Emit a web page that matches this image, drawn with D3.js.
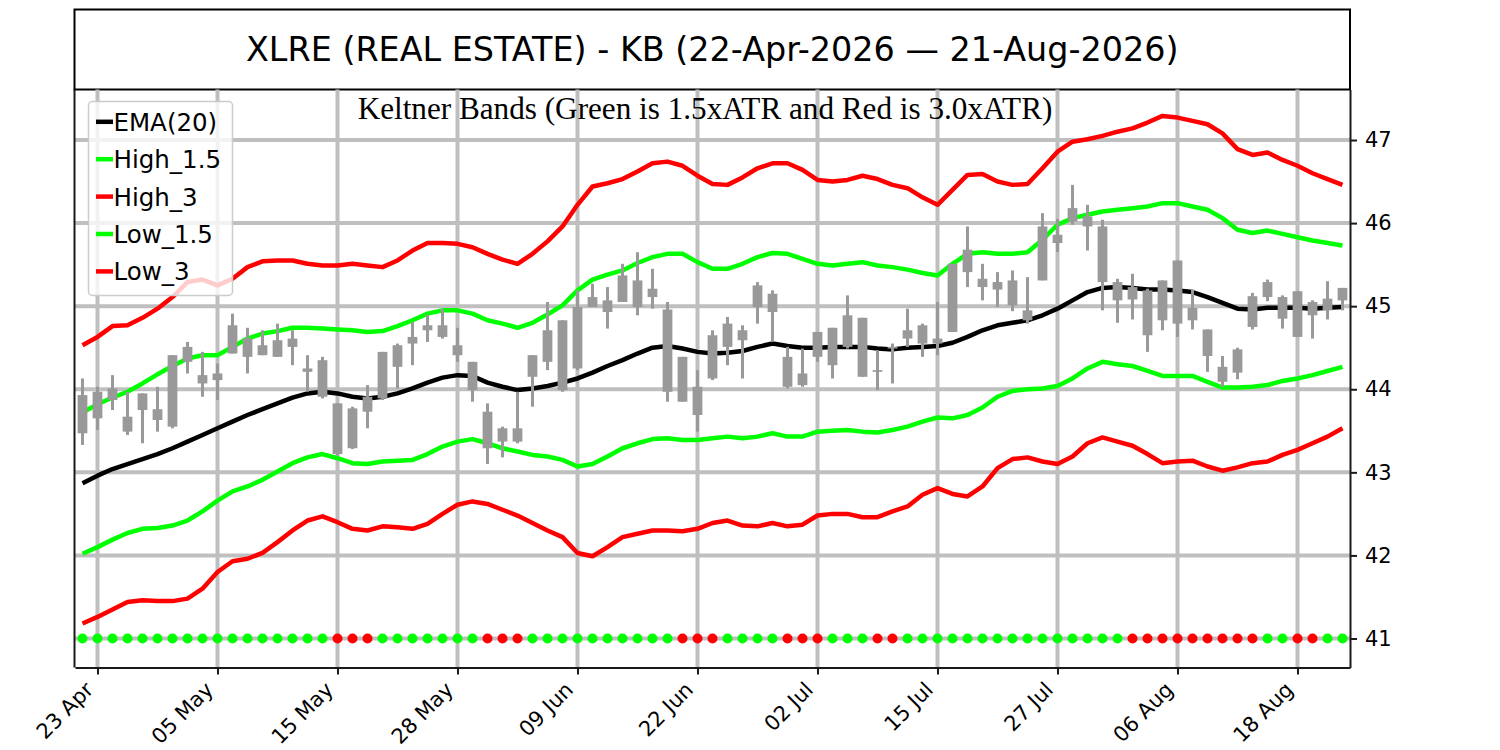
<!DOCTYPE html>
<html>
<head>
<meta charset="utf-8">
<script src="https://cdn.jsdelivr.net/npm/d3@7"></script>
<style>
  body { margin: 0; background: #fff; }
  svg { display: block; }
</style>
</head>
<body>
<svg id="chart" width="1500" height="750"></svg>
<script>
const dates = [
  "2026-04-22", "2026-04-23", "2026-04-24", "2026-04-27", "2026-04-28", "2026-04-29", "2026-04-30",
  "2026-05-01", "2026-05-04", "2026-05-05", "2026-05-06", "2026-05-07", "2026-05-08", "2026-05-11",
  "2026-05-12", "2026-05-13", "2026-05-14", "2026-05-15", "2026-05-18", "2026-05-19", "2026-05-20",
  "2026-05-21", "2026-05-22", "2026-05-26", "2026-05-27", "2026-05-28", "2026-05-29", "2026-06-01",
  "2026-06-02", "2026-06-03", "2026-06-04", "2026-06-05", "2026-06-08", "2026-06-09", "2026-06-10",
  "2026-06-11", "2026-06-12", "2026-06-15", "2026-06-16", "2026-06-17", "2026-06-18", "2026-06-22",
  "2026-06-23", "2026-06-24", "2026-06-25", "2026-06-26", "2026-06-29", "2026-06-30", "2026-07-01",
  "2026-07-02", "2026-07-06", "2026-07-07", "2026-07-08", "2026-07-09", "2026-07-10", "2026-07-13",
  "2026-07-14", "2026-07-15", "2026-07-16", "2026-07-17", "2026-07-20", "2026-07-21", "2026-07-22",
  "2026-07-23", "2026-07-24", "2026-07-27", "2026-07-28", "2026-07-29", "2026-07-30", "2026-07-31",
  "2026-08-03", "2026-08-04", "2026-08-05", "2026-08-06", "2026-08-07", "2026-08-10", "2026-08-11",
  "2026-08-12", "2026-08-13", "2026-08-14", "2026-08-17", "2026-08-18", "2026-08-19", "2026-08-20",
  "2026-08-21"
];

const open = [
  43.93, 43.65, 43.87, 43.67, 43.75, 43.76, 43.55, 44.33, 44.17, 44.11,
  44.43, 44.61, 44.53, 44.39, 44.51, 44.25, 44.35, 43.83, 43.29, 43.73,
  43.89, 44.27, 44.55, 44.71, 44.77, 44.53, 44.33, 43.73, 43.53, 43.37,
  44.15, 44.33, 44.83, 44.25, 44.99, 45.07, 45.05, 45.31, 45.11, 44.96,
  44.39, 44.03, 44.13, 44.51, 44.71, 44.99, 45.15, 44.39, 44.19, 44.39,
  44.74, 44.51, 44.86, 44.23, 44.49, 44.61, 44.77, 44.61, 44.69, 45.41,
  45.33, 45.29, 45.31, 44.95, 45.31, 45.76, 46.02, 46.08, 45.96, 45.29,
  45.23, 45.19, 44.83, 44.79, 44.98, 44.72, 44.27, 44.20, 44.75, 45.11,
  45.11, 45.18, 44.89, 44.95, 45.07
];
const high = [
  44.13, 44.03, 44.17, 43.97, 43.95, 44.03, 44.41, 44.57, 44.45, 44.31,
  44.91, 44.74, 44.71, 44.79, 44.71, 44.41, 44.39, 43.83, 43.79, 44.05,
  44.45, 44.55, 44.81, 44.90, 44.97, 44.74, 44.33, 43.83, 43.55, 43.97,
  44.41, 45.05, 44.83, 45.19, 45.27, 45.23, 45.51, 45.65, 45.45, 45.05,
  44.39, 44.23, 44.71, 44.87, 44.77, 45.29, 45.19, 44.51, 44.49, 44.69,
  44.74, 45.13, 44.86, 44.47, 44.55, 44.97, 44.79, 45.05, 45.51, 45.96,
  45.51, 45.41, 45.43, 45.35, 46.12, 46.05, 46.46, 46.22, 46.04, 45.33,
  45.39, 45.21, 45.31, 45.55, 45.20, 44.72, 44.40, 44.50, 45.16, 45.32,
  45.13, 45.18, 45.07, 45.30, 45.22
];
const low = [
  43.33, 43.51, 43.75, 43.45, 43.35, 43.49, 43.53, 44.19, 43.91, 43.87,
  44.43, 44.19, 44.41, 44.39, 44.29, 43.97, 43.89, 43.20, 43.28, 43.53,
  43.87, 44.01, 44.29, 44.57, 44.61, 44.33, 43.85, 43.10, 43.18, 43.35,
  43.79, 44.23, 43.97, 44.23, 44.99, 44.73, 45.05, 44.89, 44.97, 43.85,
  43.85, 43.49, 44.11, 44.29, 44.13, 44.79, 44.57, 44.01, 44.03, 44.33,
  44.13, 44.49, 44.15, 43.99, 44.07, 44.51, 44.39, 44.41, 44.69, 45.23,
  45.07, 44.99, 44.94, 44.79, 45.31, 45.65, 45.98, 45.67, 44.95, 44.80,
  44.84, 44.45, 44.71, 44.63, 44.72, 44.21, 44.03, 44.12, 44.72, 45.06,
  44.73, 44.63, 44.61, 44.84, 44.95
];
const close = [
  43.47, 43.97, 44.01, 43.49, 43.95, 43.63, 44.41, 44.51, 44.07, 44.19,
  44.77, 44.39, 44.41, 44.59, 44.61, 44.21, 43.91, 43.22, 43.77, 43.91,
  44.45, 44.53, 44.63, 44.77, 44.63, 44.41, 43.99, 43.29, 43.37, 43.53,
  44.41, 44.71, 43.99, 44.99, 45.11, 44.93, 45.37, 44.99, 45.21, 43.97,
  43.85, 43.69, 44.65, 44.79, 44.59, 45.25, 44.93, 44.03, 44.05, 44.69,
  44.29, 44.89, 44.15, 44.21, 44.51, 44.71, 44.55, 44.55, 45.51, 45.68,
  45.23, 45.20, 45.01, 44.83, 45.96, 45.86, 46.18, 45.96, 45.29, 45.07,
  45.08, 44.65, 45.31, 45.55, 44.83, 44.40, 44.09, 44.48, 45.12, 45.29,
  44.85, 44.63, 45.05, 45.09, 45.22
];

const ema20 = [
  42.87, 42.96, 43.04, 43.10, 43.16, 43.22, 43.29, 43.37, 43.45, 43.53,
  43.61, 43.69, 43.76, 43.83, 43.90, 43.95, 43.97, 43.95, 43.91, 43.89,
  43.91, 43.95, 44.01, 44.08, 44.14, 44.17, 44.16, 44.08, 44.03, 43.99,
  44.01, 44.04, 44.08, 44.13, 44.20, 44.28, 44.35, 44.43, 44.50, 44.52,
  44.49, 44.45, 44.43, 44.44, 44.46, 44.51, 44.55, 44.52, 44.50, 44.50,
  44.51, 44.51, 44.51, 44.49, 44.48, 44.50, 44.51, 44.52, 44.56, 44.63,
  44.71, 44.77, 44.80, 44.83, 44.89, 44.97, 45.07, 45.17, 45.22, 45.23,
  45.22, 45.20, 45.20, 45.19, 45.17, 45.11, 45.04, 44.97, 44.96, 44.98,
  44.98, 44.98, 44.97, 44.98, 44.99
];
const high15 = [
  43.72, 43.82, 43.90, 43.97, 44.07, 44.18, 44.28, 44.37, 44.41, 44.41,
  44.51, 44.61, 44.67, 44.70, 44.74, 44.74, 44.73, 44.72, 44.71, 44.69,
  44.70, 44.76, 44.83, 44.91, 44.95, 44.95, 44.91, 44.83, 44.79, 44.74,
  44.80, 44.90, 45.01, 45.19, 45.32, 45.38, 45.43, 45.52, 45.59, 45.63,
  45.63, 45.53, 45.45, 45.45, 45.51, 45.59, 45.64, 45.63, 45.57, 45.51,
  45.49, 45.51, 45.53, 45.49, 45.47, 45.44, 45.40, 45.37, 45.51, 45.63,
  45.65, 45.63, 45.63, 45.65, 45.80, 45.98, 46.06, 46.10, 46.14, 46.16,
  46.18, 46.20, 46.24, 46.24, 46.20, 46.16, 46.06, 45.92, 45.88, 45.91,
  45.87, 45.83, 45.79, 45.76, 45.73
];
const high3 = [
  44.53, 44.63, 44.76, 44.77, 44.86, 44.97, 45.11, 45.29, 45.32, 45.25,
  45.33, 45.47, 45.54, 45.55, 45.55, 45.51, 45.49, 45.49, 45.51, 45.49,
  45.47, 45.55, 45.67, 45.76, 45.76, 45.75, 45.71, 45.63, 45.56, 45.51,
  45.63, 45.78, 45.96, 46.22, 46.44, 46.48, 46.53, 46.62, 46.72, 46.74,
  46.69, 46.57, 46.47, 46.46, 46.55, 46.66, 46.72, 46.72, 46.64, 46.52,
  46.50, 46.52, 46.57, 46.53, 46.46, 46.42, 46.31, 46.22, 46.40, 46.58,
  46.59, 46.50, 46.46, 46.47, 46.66, 46.86, 46.98, 47.01, 47.05, 47.10,
  47.14, 47.21, 47.29, 47.27, 47.23, 47.19, 47.08, 46.89, 46.82, 46.85,
  46.76, 46.69, 46.60, 46.53, 46.46
];
const low15 = [
  42.02, 42.10, 42.19, 42.27, 42.32, 42.33, 42.36, 42.42, 42.53, 42.66,
  42.77, 42.83, 42.91, 43.01, 43.11, 43.18, 43.22, 43.17, 43.11, 43.10,
  43.13, 43.14, 43.15, 43.22, 43.31, 43.37, 43.40, 43.35, 43.29, 43.25,
  43.21, 43.19, 43.15, 43.07, 43.10, 43.19, 43.29, 43.35, 43.40, 43.41,
  43.39, 43.39, 43.41, 43.43, 43.41, 43.43, 43.47, 43.43, 43.43, 43.49,
  43.50, 43.51, 43.49, 43.48, 43.51, 43.55, 43.61, 43.66, 43.65, 43.69,
  43.78, 43.91, 43.98, 44.00, 44.01, 44.04, 44.13, 44.25, 44.33, 44.30,
  44.28, 44.22, 44.16, 44.16, 44.16, 44.09, 44.02, 44.02, 44.03, 44.05,
  44.10, 44.13, 44.17, 44.22, 44.27
];
const low3 = [
  41.18, 41.26, 41.35, 41.44, 41.46, 41.45, 41.45, 41.48, 41.60, 41.80,
  41.93, 41.96, 42.03, 42.16, 42.30, 42.42, 42.47, 42.40, 42.32, 42.30,
  42.35, 42.34, 42.32, 42.38, 42.50, 42.61, 42.65, 42.62, 42.55, 42.48,
  42.39, 42.30, 42.22, 42.03, 41.99, 42.10, 42.22, 42.26, 42.30, 42.30,
  42.29, 42.32, 42.39, 42.42, 42.36, 42.35, 42.39, 42.35, 42.37, 42.48,
  42.50, 42.50, 42.46, 42.46, 42.53, 42.59, 42.73, 42.81, 42.74, 42.71,
  42.83, 43.05, 43.16, 43.18, 43.13, 43.10, 43.19, 43.35, 43.42, 43.37,
  43.32, 43.22, 43.11, 43.13, 43.14, 43.07, 43.02, 43.06, 43.11, 43.13,
  43.21, 43.27, 43.35, 43.43, 43.53
];

// 1 = green dot, 0 = red dot
const signalUp = [
  1, 1, 1, 1, 1, 1, 1, 1, 1, 1,
  1, 1, 1, 1, 1, 1, 1, 0, 0, 0,
  1, 1, 1, 1, 1, 1, 1, 0, 0, 0,
  1, 1, 1, 1, 1, 1, 1, 1, 1, 1,
  0, 0, 0, 1, 1, 1, 1, 0, 0, 0,
  1, 1, 1, 0, 0, 1, 1, 1, 1, 1,
  1, 1, 1, 1, 1, 1, 1, 1, 1, 1,
  0, 0, 0, 0, 0, 0, 0, 0, 0, 1,
  1, 0, 0, 1, 1
];
const signalLevel = 41;

const yTicks = [41, 42, 43, 44, 45, 46, 47];
const xTickIndex = [1, 9, 17, 25, 33, 41, 49, 57, 65, 73, 81];

const chartTitle = "XLRE (REAL ESTATE) - KB (22-Apr-2026 \u2014 21-Aug-2026)";
const subTitle = "Keltner Bands (Green is 1.5xATR and Red is 3.0xATR)";

const series = [
  { name: "EMA(20)", values: ema20, color: "#000000" },
  { name: "High_1.5", values: high15, color: "#00ff00" },
  { name: "High_3", values: high3, color: "#ff0000" },
  { name: "Low_1.5", values: low15, color: "#00ff00" },
  { name: "Low_3", values: low3, color: "#ff0000" },
];

const GRID = "#bfbfbf";
const CANDLE = "#999999";
const SPINE = "#1a1a1a";
const SANS = "'DejaVu Sans', sans-serif";

const axLeft = 74.5, axRight = 1350, axTop = 89.5, axBottom = 667.5;
const svg = d3.select("#chart");

const parseDate = d3.timeParse("%Y-%m-%d");
const fmtTick = d3.timeFormat("%d %b");
const days = dates.map(parseDate);

const x = d3.scaleLinear().domain([-0.5, dates.length - 0.5]).range([axLeft + 0.5, axRight]);
const y = d3.scaleLinear().domain([40.651, 47.608]).range([axBottom, axTop]);

// title box
svg.append("rect")
  .attr("x", axLeft).attr("y", 9.5)
  .attr("width", axRight - axLeft).attr("height", axTop - 9.5)
  .attr("fill", "none").attr("stroke", "#000").attr("stroke-width", 2);

svg.append("text")
  .attr("x", (axLeft + axRight) / 2).attr("y", 61)
  .attr("text-anchor", "middle")
  .style("font-family", SANS).style("font-size", "33.4px")
  .text(chartTitle);

const plot = svg.append("g");

// grid
plot.append("g").selectAll("line").data(yTicks).join("line")
  .attr("x1", axLeft).attr("x2", axRight)
  .attr("y1", (d) => y(d)).attr("y2", (d) => y(d))
  .attr("stroke", GRID).attr("stroke-width", 4);

plot.append("g").selectAll("line").data(xTickIndex).join("line")
  .attr("x1", (d) => x(d)).attr("x2", (d) => x(d))
  .attr("y1", axTop).attr("y2", axBottom)
  .attr("stroke", GRID).attr("stroke-width", 4);

// bands and ema
const line = d3.line().x((d, i) => x(i)).y((d) => y(d));
plot.append("g").selectAll("path").data(series).join("path")
  .attr("d", (s) => line(s.values))
  .attr("fill", "none")
  .attr("stroke", (s) => s.color)
  .attr("stroke-width", 4.5)
  .attr("stroke-linejoin", "round");

// candles
const bars = dates.map((d, i) => ({ i, o: open[i], h: high[i], l: low[i], c: close[i] }));
const bodyW = (x(1) - x(0)) * 0.65;
const candles = plot.append("g");
candles.selectAll("line").data(bars).join("line")
  .attr("x1", (d) => x(d.i)).attr("x2", (d) => x(d.i))
  .attr("y1", (d) => y(d.h)).attr("y2", (d) => y(d.l))
  .attr("stroke", CANDLE).attr("stroke-width", 3);
candles.selectAll("rect").data(bars).join("rect")
  .attr("x", (d) => x(d.i) - bodyW / 2)
  .attr("y", (d) => y(Math.max(d.o, d.c)))
  .attr("width", bodyW)
  .attr("height", (d) => Math.max(1.5, y(Math.min(d.o, d.c)) - y(Math.max(d.o, d.c))))
  .attr("fill", CANDLE);

// signal dots
plot.append("g").selectAll("circle").data(signalUp).join("circle")
  .attr("cx", (d, i) => x(i))
  .attr("cy", y(signalLevel))
  .attr("r", 5)
  .attr("fill", (d) => (d ? "#00ff00" : "#ff0000"));

// subtitle
svg.append("text")
  .attr("x", 705).attr("y", 119)
  .attr("text-anchor", "middle")
  .style("font-family", "'Liberation Serif', 'Times New Roman', serif")
  .style("font-size", "31.2px")
  .text(subTitle);

// axes
svg.append("line")
  .attr("x1", axLeft).attr("x2", axLeft).attr("y1", axTop).attr("y2", axBottom)
  .attr("stroke", SPINE).attr("stroke-width", 2);

const yAxis = svg.append("g")
  .attr("transform", `translate(${axRight},0)`)
  .call(d3.axisRight(y).tickValues(yTicks).tickSize(7).tickSizeOuter(0).tickPadding(8).tickFormat(d3.format("d")));

const xAxis = svg.append("g")
  .attr("transform", `translate(0,${axBottom})`)
  .call(d3.axisBottom(x).tickValues(xTickIndex).tickSize(7).tickSizeOuter(0).tickFormat((i) => fmtTick(days[i])));

[yAxis, xAxis].forEach((a) => {
  a.select(".domain").attr("stroke", SPINE).attr("stroke-width", 2);
  a.selectAll(".tick line").attr("stroke", SPINE).attr("stroke-width", 2);
  a.selectAll("text").style("font-family", SANS).style("font-size", "21px").attr("fill", "#000");
});

xAxis.selectAll(".tick text")
  .attr("text-anchor", "end")
  .attr("x", -3.5).attr("y", 23.5).attr("dy", 0)
  .attr("transform", "rotate(-45, -3.5, 23.5)");

// legend
const legend = svg.append("g").attr("transform", "translate(88.5,101.5)");
legend.append("rect")
  .attr("width", 144).attr("height", 194).attr("rx", 4)
  .attr("fill", "#fff").attr("fill-opacity", 0.8)
  .attr("stroke", "#cccccc").attr("stroke-width", 1.5);

const rows = legend.selectAll("g.row").data(series).join("g")
  .attr("class", "row")
  .attr("transform", (d, i) => `translate(0,${20.3 + i * 37.4})`);
rows.append("line")
  .attr("x1", 7.5).attr("x2", 24.5)
  .attr("stroke", (d) => d.color).attr("stroke-width", 4.5);
rows.append("text")
  .attr("x", 25).attr("y", 9)
  .style("font-family", SANS).style("font-size", "24.5px")
  .text((d) => d.name);
</script>
</body>
</html>
